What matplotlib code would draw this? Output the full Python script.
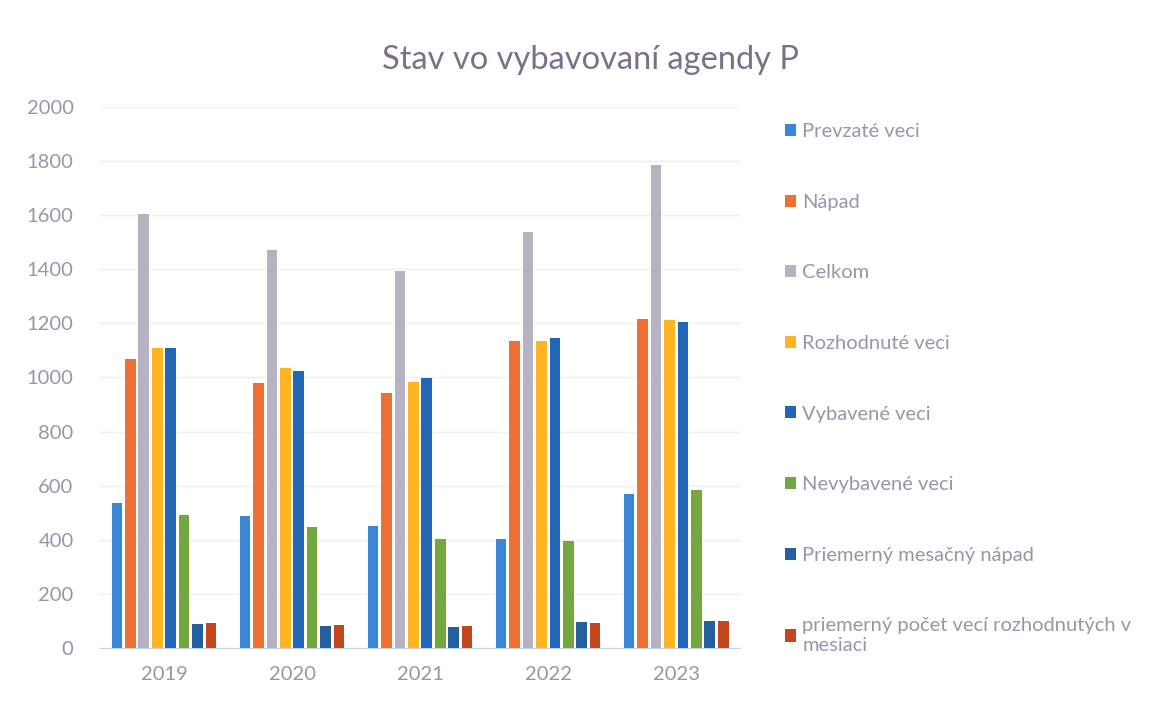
import numpy as np
import matplotlib.pyplot as plt

plt.rcParams['font.family'] = ['Lato', 'DejaVu Sans']

roky = ['2019', '2020', '2021', '2022', '2023']
serie = ['Prevzaté veci', 'Nápad', 'Celkom', 'Rozhodnuté veci', 'Vybavené veci',
         'Nevybavené veci', 'Priemerný mesačný nápad',
         'priemerný počet vecí rozhodnutých v\nmesiaci']

prevzate = [537, 489, 451, 402, 569]
napad = [1069, 978, 942, 1136, 1215]
celkom = [1604, 1472, 1395, 1537, 1786]
rozhodnute = [1107, 1034, 982, 1133, 1213]
vybavene = [1110, 1022, 997, 1145, 1203]
nevybavene = [492, 449, 402, 396, 585]
priem_napad = [89, 81, 79, 95, 101]
priem_rozh = [92, 86, 82, 94, 101]

hodnoty = [prevzate, napad, celkom, rozhodnute, vybavene, nevybavene, priem_napad, priem_rozh]
farby = ['#3a87d8', '#ee7133', '#b7b1c4', '#fdb521', '#2166b8', '#72a83f', '#24609c', '#c4461f']

text_farba = '#9d92ab'

fig = plt.figure(figsize=(11.62, 7.01), dpi=100)
ax = fig.add_axes([0.086, 0.0756, 0.551, 0.772])

x = np.arange(len(roky))
krok = 0.105
sirka = 0.083
for i, (nazov, h) in enumerate(zip(serie, hodnoty)):
    posun = (i - 3.5) * krok
    ax.bar(x + posun, h, width=sirka, color=farby[i], label=nazov, zorder=3)

ax.set_xlim(-0.5, 4.5)
ax.set_ylim(0, 2000)
ax.set_yticks(range(0, 2001, 200))
ax.set_xticks(x)
ax.set_xticklabels(roky)
ax.tick_params(axis='both', length=0, labelsize=14.5, colors=text_farba)
ax.tick_params(axis='y', pad=19)
ax.tick_params(axis='x', pad=13)
ax.grid(axis='y', color='#f0eef3', linewidth=1, zorder=0)
for s in ['top', 'right', 'left']:
    ax.spines[s].set_visible(False)
ax.spines['bottom'].set_color('#c9d3e6')

fig.text(0.508, 0.915, 'Stav vo vybavovaní agendy P', ha='center', va='center',
         fontsize=23.5, color='#7c6e8c')

leg = fig.legend(loc='upper left', bbox_to_anchor=(0.66, 0.85), frameon=False,
                 fontsize=14.5, labelspacing=2.66, handlelength=0.55, handleheight=0.55,
                 handletextpad=0.3, labelcolor=text_farba)

fig.savefig('out.png', dpi=100)
